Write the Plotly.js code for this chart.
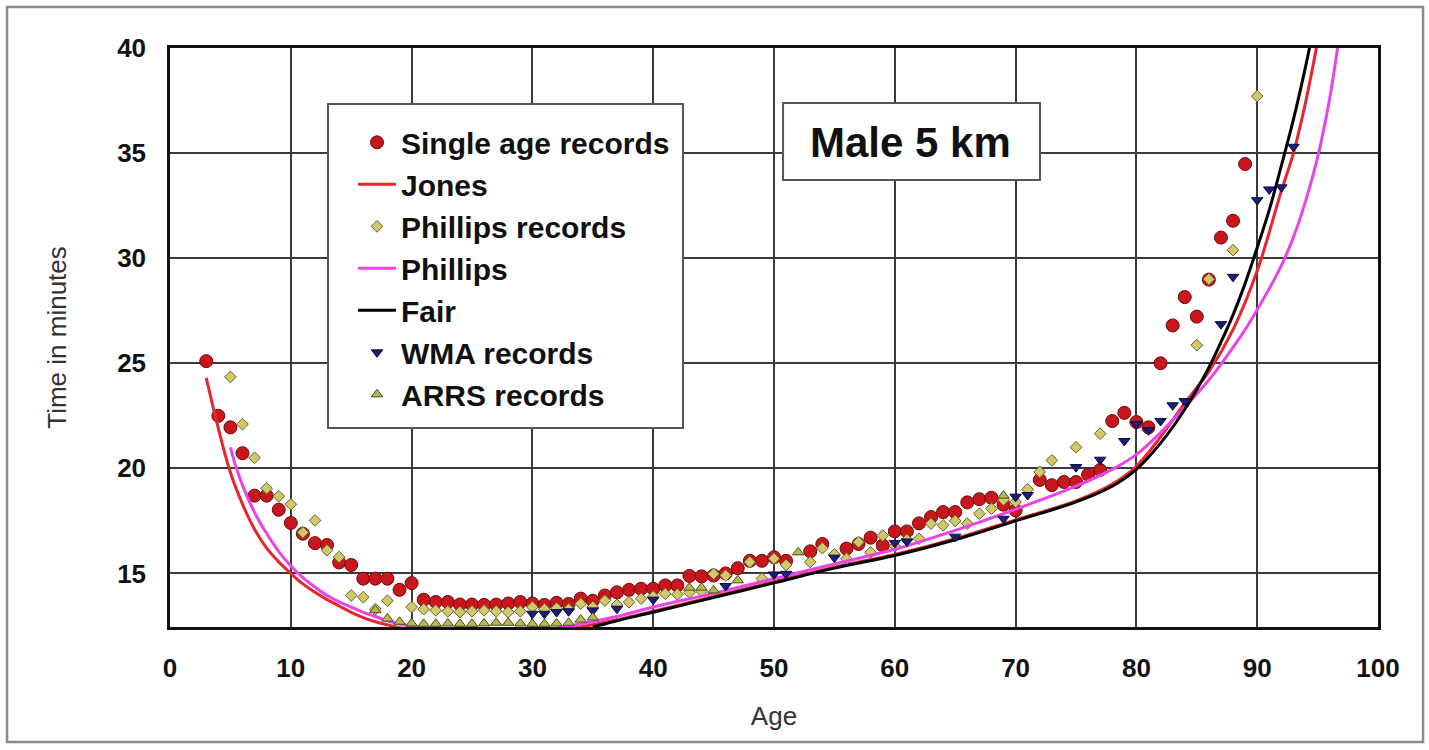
<!DOCTYPE html>
<html>
<head>
<meta charset="utf-8">
<script src="https://cdn.plot.ly/plotly-3.0.1.min.js"></script>
<style>
  body { margin: 0; background: #fff; }
  #chart { width: 1429px; height: 750px; }
</style>
</head>
<body>
<div id="chart"></div>
<script>
// single age records (red circles)
const singleAges = [3,4,5,6,7,8,9,10,11,12,13,14,15,16,17,18,19,20,21,22,23,24,25,26,27,28,29,30,31,32,33,34,35,36,37,38,39,40,41,42,43,44,45,46,47,48,49,50,51,53,54,56,57,58,59,60,61,62,63,64,65,66,67,68,69,70,72,73,74,75,76,77,78,79,80,81,82,83,84,85,86,87,88,89];
const singleTimes = [25.1,22.5,21.95,20.72,18.7,18.7,18.03,17.4,16.89,16.44,16.35,15.52,15.4,14.75,14.75,14.75,14.22,14.54,13.75,13.64,13.64,13.52,13.52,13.5,13.52,13.57,13.64,13.57,13.5,13.6,13.55,13.8,13.7,13.95,14.1,14.22,14.27,14.27,14.43,14.43,14.88,14.86,14.9,15.0,15.25,15.6,15.6,15.77,15.6,16.05,16.4,16.18,16.4,16.7,16.33,17.0,17.0,17.38,17.68,17.92,17.92,18.38,18.53,18.6,18.27,18.0,19.45,19.2,19.35,19.35,19.7,19.92,22.25,22.64,22.2,21.95,25.0,26.8,28.15,27.22,28.98,30.98,31.78,34.48];

// Jones curve
const jonesAges = [3,4,5,6,7,8,9,10,11,12,13,14,15,16,17,18,19,20,22,25,28,31,34,37,40,45,50,55,60,65,70,75,78,80,82,84,86,88,90,92,93,94,95];
const jonesTimes = [24.3,21.9,19.8,18.3,17.1,16.2,15.55,15.0,14.5,14.1,13.75,13.45,13.15,12.9,12.7,12.55,12.42,12.32,12.18,12.05,12.05,12.15,12.45,12.8,13.2,13.9,14.6,15.3,15.9,16.65,17.55,18.45,19.25,20.1,21.5,23.1,24.6,26.6,29.4,33.2,35.0,37.4,40.3];

// Phillips records
const phillipsRecAges = [5,6,7,8,9,10,11,12,13,14,15,16,17,18,20,21,22,23,24,25,26,27,28,29,30,31,32,33,34,35,36,37,38,39,40,41,42,43,44,45,46,48,49,50,51,53,54,55,56,57,58,59,60,61,62,63,64,65,66,67,68,69,70,71,72,73,75,77,85,86,88,90];
const phillipsRecTimes = [24.35,22.1,20.5,19.05,18.67,18.29,16.95,17.52,16.1,15.78,13.95,13.87,13.3,13.7,13.4,13.3,13.24,13.2,13.16,13.2,13.24,13.2,13.16,13.2,13.4,13.3,13.35,13.3,13.56,13.4,13.71,13.5,13.63,13.8,13.9,14.03,14.0,14.1,14.15,14.98,14.9,15.54,14.75,15.7,15.4,15.54,16.2,15.9,15.7,16.49,16.0,16.8,16.3,16.6,16.65,17.37,17.29,17.5,17.37,17.84,18.08,18.5,18.4,19.0,19.83,20.38,21.0,21.65,25.86,29.0,30.38,37.71];

// Phillips curve
const phillipsAges = [5,5.5,6,7,8,9,10,11,12,13,14,15,16,17,18,19,20,22,25,28,31,34,37,40,45,50,55,60,65,70,75,78,80,82,84,86,87,88,89,90,91,92,93,94,95,96,96.7];
const phillipsTimes = [21.0,20.0,19.2,17.9,16.9,16.05,15.35,14.8,14.35,13.95,13.65,13.4,13.15,12.95,12.75,12.6,12.48,12.3,12.15,12.15,12.3,12.6,12.95,13.4,14.05,14.75,15.45,16.15,17.05,18.05,19.15,19.95,20.65,21.7,22.9,24.2,24.95,25.75,26.6,27.55,28.55,29.65,31.0,32.7,34.8,37.6,40.2];

// Fair curve
const fairAges = [35,37,40,45,50,55,60,65,70,75,78,80,82,84,86,87,88,89,90,91,92,93,94,94.5];
const fairTimes = [12.45,12.75,13.15,13.85,14.55,15.25,15.85,16.6,17.5,18.4,19.15,19.95,21.2,22.8,24.8,26.0,27.3,28.8,30.5,32.3,34.4,36.6,39.1,40.5];

// WMA records
const wmaAges = [30,31,32,33,35,37,40,46,50,51,55,60,61,65,69,70,71,75,77,79,80,81,82,83,84,87,88,90,91,92,93];
const wmaTimes = [13.08,13.08,13.16,13.2,13.24,13.32,13.75,14.4,14.95,14.98,15.75,16.45,16.52,16.75,17.6,18.65,18.73,20.06,20.41,21.3,22.1,21.81,22.25,23.0,23.2,26.86,29.11,32.76,33.27,33.37,35.3];

// ARRS records
const arrsAges = [17,18,19,20,21,22,23,24,25,26,27,28,29,30,31,32,33,34,35,43,44,45,47,52,69];
const arrsTimes = [13.25,12.85,12.7,12.62,12.6,12.6,12.62,12.6,12.6,12.62,12.65,12.65,12.62,12.6,12.6,12.62,12.65,12.8,12.9,14.32,14.32,14.19,14.67,16.0,18.7];

const xTicks = [0,10,20,30,40,50,60,70,80,90,100];
const yTicks = [15,20,25,30,35,40];

const traces = [
  { x: singleAges, y: singleTimes, mode: 'markers', name: 'Single age records',
    marker: { symbol: 'circle', size: 13, color: '#c8161c', line: { color: '#6a0a0a', width: 1 } } },
  { x: jonesAges, y: jonesTimes, mode: 'lines', name: 'Jones',
    line: { color: '#e8242c', width: 3, shape: 'spline' } },
  { x: phillipsRecAges, y: phillipsRecTimes, mode: 'markers', name: 'Phillips records',
    marker: { symbol: 'diamond', size: 9, color: '#cfc96c', line: { color: '#6e5b28', width: 1 } } },
  { x: phillipsAges, y: phillipsTimes, mode: 'lines', name: 'Phillips',
    line: { color: '#e844e8', width: 3, shape: 'spline' } },
  { x: fairAges, y: fairTimes, mode: 'lines', name: 'Fair',
    line: { color: '#000000', width: 3, shape: 'spline' } },
  { x: wmaAges, y: wmaTimes, mode: 'markers', name: 'WMA records',
    marker: { symbol: 'triangle-down', size: 10, color: '#1c1c7a', line: { color: '#0a0a40', width: 1 } } },
  { x: arrsAges, y: arrsTimes, mode: 'markers', name: 'ARRS records',
    marker: { symbol: 'triangle-up', size: 10, color: '#b8b850', line: { color: '#4a4a20', width: 1 } } }
];

const tickFont = { family: 'Liberation Sans, Arial, sans-serif', size: 26, weight: 'bold', color: '#111' };
const titleFont = { family: 'Liberation Sans, Arial, sans-serif', size: 26, color: '#333' };

const layout = {
  width: 1429, height: 750,
  margin: { l: 170, r: 51, t: 48, b: 123 },
  paper_bgcolor: '#fff', plot_bgcolor: '#fff',
  showlegend: true,
  xaxis: {
    range: [0, 100], tickvals: xTicks, ticks: '', tickfont: tickFont,
    showgrid: true, gridcolor: '#3a3a3a', gridwidth: 1.5, zeroline: false,
    showline: true, mirror: true, linecolor: '#111', linewidth: 2.5,
    ticklabelstandoff: 16,
    title: { text: 'Age', font: titleFont, standoff: 25 }
  },
  yaxis: {
    range: [12.45, 40], tickvals: yTicks, ticks: '', tickfont: tickFont,
    showgrid: true, gridcolor: '#3a3a3a', gridwidth: 1.5, zeroline: false,
    showline: true, mirror: true, linecolor: '#111', linewidth: 2.5,
    ticklabelstandoff: 16,
    title: { text: 'Time in minutes', font: titleFont, standoff: 44 }
  },
  legend: {
    x: 0.1515, y: 0.882, xanchor: 'left', yanchor: 'top',
    itemwidth: 38,
    bgcolor: 'rgba(0,0,0,0)', borderwidth: 0,
    font: { family: 'Liberation Sans, Arial, sans-serif', size: 30, weight: 'bold', color: '#111' }
  },
  shapes: [
    // legend box
    { type: 'rect', xref: 'paper', yref: 'paper', x0: 0.1308, x1: 0.4247, y0: 0.3437, y1: 0.9033,
      fillcolor: '#fff', line: { color: '#555', width: 2 }, layer: 'above' },
    // title box
    { type: 'rect', xref: 'paper', yref: 'paper', x0: 0.5075, x1: 0.7202, y0: 0.772, y1: 0.905,
      fillcolor: '#fff', line: { color: '#555', width: 2 }, layer: 'above' },
    // outer frame
    { type: 'rect', xref: 'paper', yref: 'paper', x0: -0.1349, x1: 1.0373, y0: -0.1986, y1: 1.0708,
      line: { color: '#8a8a8a', width: 2.5 }, layer: 'below' }
  ],
  annotations: [
    { xref: 'paper', yref: 'paper', x: 0.6134, y: 0.836, xanchor: 'center', yanchor: 'middle',
      text: 'Male 5 km', showarrow: false,
      font: { family: 'Liberation Sans, Arial, sans-serif', size: 42, weight: 'bold', color: '#111' } }
  ]
};

Plotly.newPlot('chart', traces, layout, { displayModeBar: false, responsive: false });
</script>
</body>
</html>
